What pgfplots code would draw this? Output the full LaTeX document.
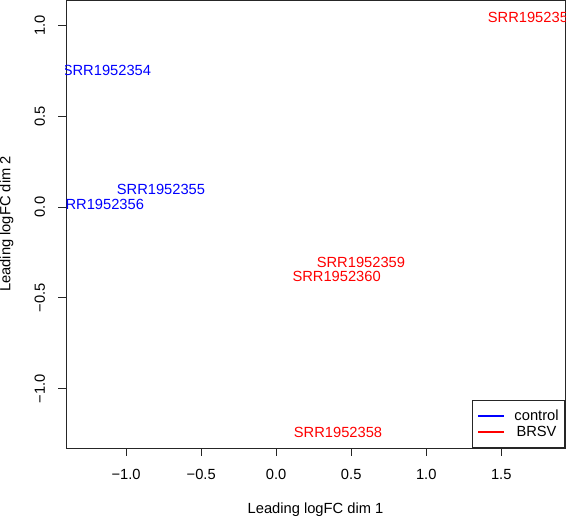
\documentclass[border=0pt]{standalone}
\usepackage{fontspec}
\setmainfont{Liberation Sans}
\usepackage{pgfplots}
\usepackage{pgfplotstable}
\pgfplotsset{compat=1.18}
\definecolor{rblue}{RGB}{0,0,255}
\definecolor{rred}{RGB}{255,0,0}
\pgfplotstableread{
x y label
-1.128 0.752 SRR1952354
-0.768 0.096 SRR1952355
-1.175 0.015 SRR1952356
}\ctrl
\pgfplotstableread{
x y label
1.705 1.045 SRR1952357
0.412 -1.243 SRR1952358
0.565 -0.304 SRR1952359
0.403 -0.380 SRR1952360
}\brsv
\begin{document}
\begin{tikzpicture}
\begin{axis}[
  scale only axis, width=499pt, height=448pt,
  xmin=-1.401, xmax=1.925, ymin=-1.327, ymax=1.14,
  axis line style={line width=0.8pt, black!85},
  every tick/.append style={line width=0.8pt, black!85},
  tick align=outside, major tick length=7.7pt,
  xtick pos=bottom, ytick pos=left,
  xtick={-1,-0.5,0,0.5,1,1.5}, xticklabels={−1.0,−0.5,0.0,0.5,1.0,1.5},
  ytick={-1,-0.5,0,0.5,1}, yticklabels={−1.0,−0.5,0.0,0.5,1.0},
  font=\fontsize{14.7}{17}\selectfont,
  xticklabel style={anchor=north, inner sep=0pt},
  yticklabel style={rotate=90, anchor=south, inner sep=0pt},
  xticklabel shift=13.3pt, yticklabel shift=13pt,
  xlabel={Leading logFC dim 1}, ylabel={Leading logFC dim 2},
  xlabel style={at={(axis description cs:0.5,0)}, anchor=base, inner sep=0pt, yshift=-66pt},
  ylabel style={at={(axis description cs:0,0.5)}, anchor=base, inner sep=0pt, yshift=55.5pt},
  legend style={at={(rel axis cs:1,0)}, anchor=south east, draw=black!85, line width=0.8pt,
    inner xsep=6pt, inner ysep=7.5pt, row sep=0pt, column sep=10.5pt,
    nodes={inner sep=0pt, text height=12.8pt, text depth=3.2pt, anchor=base},
    font=\fontsize{14.7}{17}\selectfont},
  legend cell align=left,
  clip marker paths=true,
]
\addlegendimage{legend image code/.code={\fill[rblue] (6pt,4.9pt) rectangle (31pt,5.8pt);}}
\addlegendimage{legend image code/.code={\fill[rred] (6pt,4.9pt) rectangle (31pt,5.8pt);}}
\addplot[forget plot, only marks, mark=*, mark size=0pt, mark options={draw=none, fill=none},
  nodes near coords, point meta=explicit symbolic,
  every node near coord/.style={anchor=center, inner sep=0pt, text=rblue, font=\fontsize{14.7}{17}\selectfont}]
  table[x=x, y=y, meta=label] {\ctrl};
\addplot[forget plot, only marks, mark=*, mark size=0pt, mark options={draw=none, fill=none},
  nodes near coords, point meta=explicit symbolic,
  every node near coord/.style={anchor=center, inner sep=0pt, text=rred, font=\fontsize{14.7}{17}\selectfont}]
  table[x=x, y=y, meta=label] {\brsv};
\legend{control, BRSV}
\end{axis}
\pgfresetboundingbox
\path ([xshift=-66pt,yshift=-69pt]current axis.south west) rectangle ([xshift=1pt]current axis.north east);
\end{tikzpicture}
\end{document}
